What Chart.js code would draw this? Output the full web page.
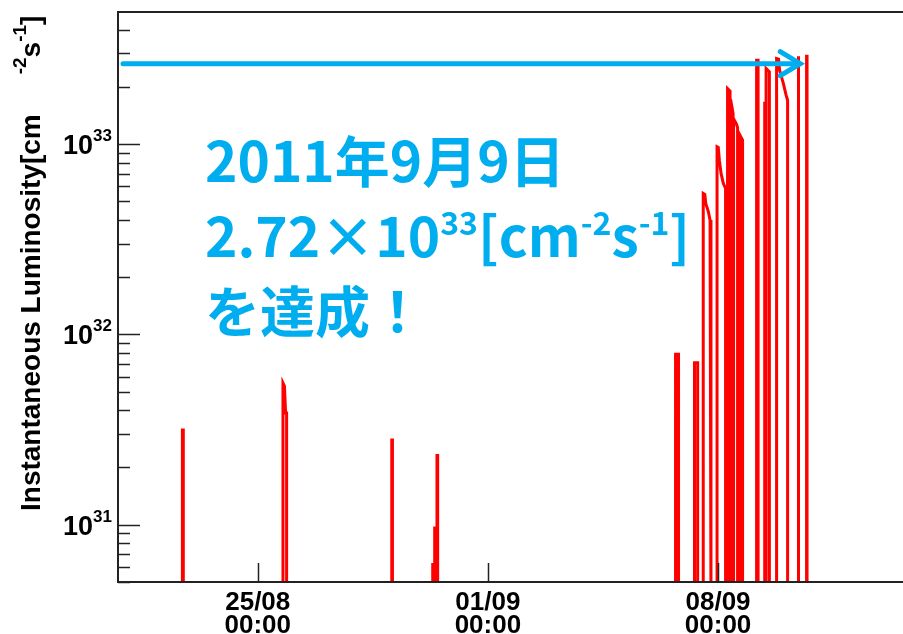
<!DOCTYPE html>
<html>
<head>
  <title>Instantaneous Luminosity</title>
  <script src="https://cdn.jsdelivr.net/npm/chart.js"></script>
  <style>
    body { margin: 0; background: #fff; }
  </style>
</head>
<body>
  <canvas id="lumiChart" width="903" height="634"></canvas>
  <script>
    // one entry per fill: time stamps (UTC) and luminosity [cm^-2 s^-1] read at them
    const fillTimes = [
      ['2011-08-22 17:00', '2011-08-22 17:40'],
      ['2011-08-25 18:25', '2011-08-25 19:30', '2011-08-25 20:20', '2011-08-25 21:05'],
      ['2011-08-29 01:50', '2011-08-29 02:20'],
      ['2011-08-30 07:30', '2011-08-30 07:50'],
      ['2011-08-30 09:10', '2011-08-30 09:30'],
      ['2011-08-30 10:50', '2011-08-30 11:20'],
      ['2011-09-06 16:58', '2011-09-06 19:09'],
      ['2011-09-07 06:29', '2011-09-07 07:10', '2011-09-07 09:07'],
      ['2011-09-07 13:11', '2011-09-07 14:20', '2011-09-07 15:01', '2011-09-07 16:55', '2011-09-07 18:10', '2011-09-07 18:50'],
      ['2011-09-07 23:16', '2011-09-08 00:10', '2011-09-08 00:57', '2011-09-08 02:11', '2011-09-08 03:52', '2011-09-08 05:29'],
      ['2011-09-08 06:56', '2011-09-08 08:46'],
      ['2011-09-08 09:08', '2011-09-08 10:58'],
      ['2011-09-08 11:19', '2011-09-08 13:31', '2011-09-08 14:15'],
      ['2011-09-08 16:26', '2011-09-08 17:54'],
      ['2011-09-09 04:08', '2011-09-09 05:13'],
      ['2011-09-09 09:50', '2011-09-09 10:10'],
      ['2011-09-09 11:04', '2011-09-09 13:28'],
      ['2011-09-09 18:44', '2011-09-09 20:11', '2011-09-09 20:55', '2011-09-09 23:42', '2011-09-10 01:40', '2011-09-10 02:46'],
      ['2011-09-10 10:30', '2011-09-10 10:50'],
      ['2011-09-10 16:37', '2011-09-10 16:57']
    ];
    const fillLumi = [
      [3.15e31, 3.15e31],
      [5.56e31, 5.35e31, 3.87e31, 3.87e31],
      [2.79e31, 2.79e31],
      [6.3e30, 6.3e30],
      [9.6e30, 9.6e30],
      [2.31e31, 2.31e31],
      [7.87e31, 7.87e31],
      [6.9e31, 7.1e31, 7.1e31],
      [5.51e32, 5.45e32, 4.88e32, 4.42e32, 3.99e32, 3.6e32],
      [9.68e32, 9.6e32, 8.24e32, 7.02e32, 6.22e32, 5.85e32],
      [1.96e33, 1.9e33],
      [1.72e33, 1.45e33],
      [1.36e33, 1.27e33, 1.22e33],
      [1.1e33, 1.05e33],
      [2.76e33, 2.76e33],
      [1.67e33, 1.67e33],
      [2.5e33, 2.4e33],
      [2.82e33, 2.8e33, 2.45e33, 2.08e33, 1.81e33, 1.7e33],
      [2.9e33, 2.9e33],
      [2.9e33, 2.9e33]
    ];
    const baseLumi = 4e30;            // below the axis, so each fill starts and ends off-frame
    const xRange = ['2011-08-20 18:00', '2011-09-13 15:00'];
    const yRange = [5e30, 4.95e33];
    const dayTicks = ['2011-08-25 00:00', '2011-09-01 00:00', '2011-09-08 00:00'];
    const dayLabels = [['25/08', '00:00'], ['01/09', '00:00'], ['08/09', '00:00']];
    const decades = [31, 32, 33];
    const recordLumi = 2.65e33;
    const recordTime = '2011-09-10 12:00';
    const noteLines = ['2011年9月9日', '2.72×10|33|[cm|-2|s|-1|]', 'を達成！'];

    const toDay = s => Date.parse(s.replace(' ', 'T') + ':00Z') / 864e5;

    const points = [];
    fillTimes.forEach((times, i) => {
      const xs = times.map(toDay);
      points.push({ x: xs[0], y: baseLumi });
      xs.forEach((x, j) => points.push({ x: x, y: fillLumi[i][j] }));
      points.push({ x: xs[xs.length - 1], y: baseLumi });
      points.push({ x: xs[xs.length - 1], y: null });
    });

    const blue = '#00AEEF';
    const sans = '"Liberation Sans", Arial, sans-serif';

    // draws text pieces, every second piece raised as a superscript
    function richText(ctx, x, y, pieces, font, sfont, rise) {
      pieces.forEach((p, i) => {
        ctx.font = i % 2 ? sfont : font;
        ctx.fillText(p, x, i % 2 ? y - rise : y);
        x += ctx.measureText(p).width;
      });
    }

    const decorations = {
      id: 'decorations',
      afterDraw(chart) {
        const { ctx, chartArea: a, scales: { x, y } } = chart;
        ctx.save();
        ctx.strokeStyle = '#222';
        ctx.fillStyle = '#000';

        // y ticks inside the frame
        ctx.lineWidth = 1.5;
        for (let e = 30; e <= 33; e++) {
          for (let m = 1; m <= 9; m++) {
            const v = m * Math.pow(10, e);
            if (v < yRange[0] || v > yRange[1]) continue;
            const py = Math.round(y.getPixelForValue(v)) + 0.5;
            ctx.beginPath();
            ctx.moveTo(a.left, py);
            ctx.lineTo(a.left + (m === 1 ? 22 : 12), py);
            ctx.stroke();
          }
        }
        // x ticks
        dayTicks.forEach(t => {
          const px = Math.round(x.getPixelForValue(toDay(t))) + 0.5;
          ctx.beginPath();
          ctx.moveTo(px, a.bottom);
          ctx.lineTo(px, a.bottom - 19);
          ctx.stroke();
        });

        // frame
        ctx.lineWidth = 2;
        ctx.beginPath();
        ctx.moveTo(a.right, a.top);
        ctx.lineTo(a.left, a.top);
        ctx.lineTo(a.left, a.bottom);
        ctx.lineTo(a.right, a.bottom);
        ctx.stroke();

        // y tick labels
        ctx.textAlign = 'left';
        ctx.textBaseline = 'alphabetic';
        decades.forEach(e => {
          const py = y.getPixelForValue(Math.pow(10, e));
          richText(ctx, 63, py + 10, ['10', String(e)], 'bold 27px ' + sans, 'bold 17px ' + sans, 13);
        });
        // x tick labels
        ctx.textAlign = 'center';
        ctx.font = 'bold 26px ' + sans;
        dayTicks.forEach((t, i) => {
          const px = x.getPixelForValue(toDay(t));
          ctx.fillText(dayLabels[i][0], px, 610);
          ctx.fillText(dayLabels[i][1], px, 633);
        });

        // y title
        ctx.save();
        ctx.translate(40, 511);
        ctx.rotate(-Math.PI / 2);
        ctx.textAlign = 'left';
        ctx.font = 'bold 28px ' + sans;
        const head = 'Instantaneous Luminosity[cm';
        ctx.fillText(head, 0, 0);
        const tx = ctx.measureText(head).width + 40;
        richText(ctx, tx, 0, ['', '-2', 's', '-1', ']'], 'bold 28px ' + sans, 'bold 19px ' + sans, 14);
        ctx.restore();

        // record arrow
        const ay = y.getPixelForValue(recordLumi);
        const ax = x.getPixelForValue(toDay(recordTime));
        ctx.strokeStyle = blue;
        ctx.lineWidth = 5;
        ctx.lineCap = 'round';
        ctx.beginPath();
        ctx.moveTo(a.left + 5, ay);
        ctx.lineTo(ax - 3, ay);
        ctx.stroke();
        ctx.beginPath();
        ctx.moveTo(ax - 20, ay - 12);
        ctx.lineTo(ax, ay);
        ctx.lineTo(ax - 20, ay + 12);
        ctx.stroke();

        // note
        ctx.fillStyle = blue;
        ctx.textAlign = 'left';
        const nf = 'bold 55px "Noto Sans CJK JP", sans-serif';
        const ns = 'bold 32px "Noto Sans CJK JP", sans-serif';
        ctx.font = nf;
        ctx.fillText(noteLines[0], 205, 182);
        richText(ctx, 205, 257, noteLines[1].split('|'), nf, ns, 22);
        ctx.font = nf;
        ctx.fillText(noteLines[2], 205, 332);
        ctx.restore();
      }
    };

    new Chart(document.getElementById('lumiChart'), {
      type: 'line',
      data: {
        datasets: [{
          data: points,
          borderColor: '#ff0000',
          borderWidth: 3,
          pointRadius: 0,
          fill: false,
          tension: 0,
          spanGaps: false
        }]
      },
      options: {
        responsive: false,
        animation: false,
        devicePixelRatio: 1,
        layout: { padding: { top: 12, left: 0, right: 0, bottom: 0 } },
        plugins: { legend: { display: false }, tooltip: { enabled: false } },
        scales: {
          x: {
            type: 'linear',
            min: toDay(xRange[0]),
            max: toDay(xRange[1]),
            grid: { display: false },
            border: { display: false },
            ticks: { display: false },
            afterFit: s => { s.height = 52; }
          },
          y: {
            type: 'logarithmic',
            min: yRange[0],
            max: yRange[1],
            grid: { display: false },
            border: { display: false },
            ticks: { display: false },
            afterFit: s => { s.width = 118; }
          }
        }
      },
      plugins: [decorations]
    });
  </script>
</body>
</html>
